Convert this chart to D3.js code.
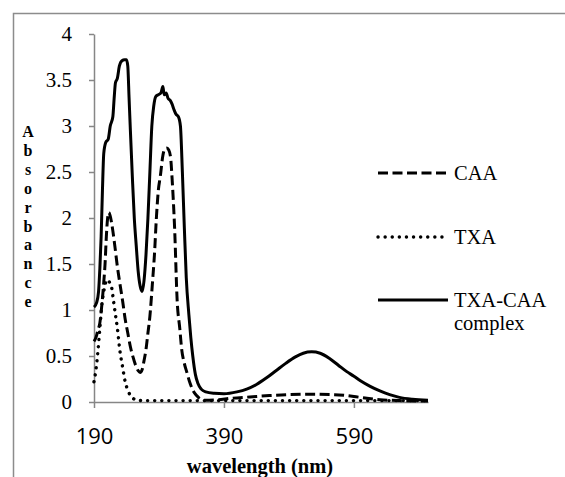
<!DOCTYPE html>
<html>
<head>
<meta charset="utf-8">
<script src="https://cdn.jsdelivr.net/npm/d3@7"></script>
<style>
  body { margin: 0; background: #fff; }
  svg { display: block; }
</style>
</head>
<body>
<div id="chart"></div>
<script>
// values (wavelength in nm, absorbance)
var caaWl  = [190, 193, 196, 199, 202, 205, 207, 209, 211, 213, 215, 219, 222, 226, 230, 234, 238, 242, 246, 250, 254, 258, 261, 264, 267, 270, 273, 276, 280, 283, 286, 289, 292, 296, 299, 302, 305, 308, 310, 312, 314, 318, 322, 325, 329, 333, 338, 342, 348, 353, 360, 380, 400, 430, 460, 490, 525, 560, 590, 610, 630, 660, 704];
var caaAbs = [0.66, 0.7, 0.78, 0.86, 1.05, 1.3, 1.5, 1.8, 2.0, 2.06, 2.02, 1.86, 1.7, 1.47, 1.28, 1.1, 0.9, 0.75, 0.6, 0.49, 0.4, 0.34, 0.32, 0.35, 0.45, 0.57, 0.75, 0.93, 1.3, 1.6, 2.0, 2.3, 2.45, 2.68, 2.75, 2.76, 2.74, 2.65, 2.45, 2.2, 1.9, 1.1, 0.8, 0.57, 0.42, 0.32, 0.2, 0.13, 0.07, 0.035, 0.02, 0.025, 0.04, 0.055, 0.07, 0.08, 0.085, 0.08, 0.06, 0.04, 0.025, 0.015, 0.01];

var txaWl  = [190, 193, 196, 199, 202, 205, 208, 211, 214, 217, 220, 223, 226, 230, 234, 238, 242, 246, 250, 256, 270, 320, 400, 500, 600, 704];
var txaAbs = [0.22, 0.35, 0.55, 0.8, 1.05, 1.2, 1.3, 1.33, 1.3, 1.25, 1.1, 0.95, 0.8, 0.55, 0.38, 0.22, 0.13, 0.07, 0.04, 0.02, 0.015, 0.015, 0.015, 0.015, 0.015, 0.015];

var cplxWl  = [190, 194, 197, 199, 201, 203, 205, 208, 212, 215, 219, 221, 223, 226, 229, 233, 237, 240, 242, 244, 246, 249, 252, 255, 258, 261, 264, 267, 270, 273, 276, 279, 282, 285, 289, 293, 296, 298, 301, 304, 307, 310, 313, 316, 320, 323, 326, 329, 332, 336, 339, 342, 346, 350, 355, 362, 375, 390, 410, 425, 440, 455, 470, 485, 500, 512, 525, 538, 553, 566, 579, 590, 600, 615, 630, 645, 660, 680, 704];
var cplxAbs = [1.03, 1.08, 1.2, 1.45, 1.8, 2.3, 2.7, 2.82, 2.86, 3.0, 3.1, 3.3, 3.47, 3.52, 3.65, 3.71, 3.72, 3.72, 3.65, 3.3, 2.95, 2.45, 2.0, 1.7, 1.42, 1.26, 1.2, 1.32, 1.6, 2.0, 2.5, 3.0, 3.22, 3.32, 3.34, 3.36, 3.43, 3.34, 3.36, 3.3, 3.28, 3.24, 3.18, 3.13, 3.1, 3.0, 2.5, 1.9, 1.35, 0.95, 0.7, 0.5, 0.3, 0.2, 0.14, 0.11, 0.095, 0.09, 0.11, 0.14, 0.19, 0.26, 0.34, 0.42, 0.49, 0.53, 0.545, 0.53, 0.47, 0.4, 0.33, 0.28, 0.23, 0.17, 0.12, 0.08, 0.05, 0.03, 0.02];

var seriesNames = ["CAA", "TXA", "TXA-CAA complex"];
var yTicks = [0, 0.5, 1, 1.5, 2, 2.5, 3, 3.5, 4];
var xTicks = [190, 390, 590];
var yTitle = "Absorbance";
var xTitle = "wavelength (nm)";

var serif = "Liberation Serif";

var W = 565, H = 477;
var svg = d3.select("#chart").append("svg")
    .attr("width", W)
    .attr("height", H);

// outer frame (only top and left edges are visible)
svg.append("path")
    .attr("d", "M13.5,477 L13.5,13.5 L565,13.5")
    .attr("fill", "none")
    .attr("stroke", "#8c8c8c")
    .attr("stroke-width", 1.5);

var x = d3.scaleLinear().domain([190, 704]).range([94, 428]);
var y = d3.scaleLinear().domain([0, 4]).range([402, 34]);

// y axis
var yAxis = svg.append("g")
    .attr("transform", "translate(" + x(190) + ",0)")
    .call(d3.axisLeft(y).tickValues(yTicks).tickSize(5).tickSizeOuter(0).tickPadding(17)
        .tickFormat(function (d) { return String(d); }))
    .attr("font-family", serif)
    .attr("font-size", 21);
yAxis.selectAll("text").attr("fill", "#000");

// x axis
var xAxis = svg.append("g")
    .attr("transform", "translate(0," + y(0) + ")")
    .call(d3.axisBottom(x).tickValues(xTicks).tickSize(6).tickSizeOuter(0).tickPadding(20)
        .tickFormat(function (d) { return String(d); }))
    .attr("font-family", "Open Sans")
    .attr("font-size", 22);
xAxis.selectAll("text").attr("fill", "#000");

svg.selectAll(".domain, .tick line")
    .attr("stroke", "#868686")
    .attr("stroke-width", 1.5);

// series
var styles = [
    {dash: "10,4.5", cap: "butt"},
    {dash: "0.1,7", cap: "round"},
    {dash: null, cap: "butt"}
];
var data = [
    caaWl.map(function (w, i) { return [w, caaAbs[i]]; }),
    txaWl.map(function (w, i) { return [w, txaAbs[i]]; }),
    cplxWl.map(function (w, i) { return [w, cplxAbs[i]]; })
];

var line = d3.line()
    .x(function (d) { return x(d[0]); })
    .y(function (d) { return y(d[1]); })
    .curve(d3.curveMonotoneX);

svg.append("g")
    .selectAll("path")
    .data(data)
    .enter().append("path")
    .attr("d", line)
    .attr("fill", "none")
    .attr("stroke", "#000")
    .attr("stroke-width", function (d, i) { return i == 1 ? 3.4 : 3; })
    .attr("stroke-linecap", function (d, i) { return styles[i].cap; })
    .attr("stroke-linejoin", "round")
    .attr("stroke-dasharray", function (d, i) { return styles[i].dash; });

// legend
var legendY = [173, 237, 300];
var legend = svg.append("g")
    .attr("font-family", serif)
    .attr("font-size", 20.5)
    .selectAll("g")
    .data(seriesNames)
    .enter().append("g")
    .attr("transform", function (d, i) { return "translate(0," + legendY[i] + ")"; });

legend.append("line")
    .attr("x1", 378).attr("x2", 448)
    .attr("y1", 0).attr("y2", 0)
    .attr("stroke", "#000")
    .attr("stroke-width", function (d, i) { return i == 1 ? 3.4 : 3; })
    .attr("stroke-linecap", function (d, i) { return styles[i].cap; })
    .attr("stroke-dasharray", function (d, i) { return styles[i].dash; });

legend.append("text")
    .attr("x", 454)
    .attr("y", 7)
    .each(function (d) {
        var parts = d == "TXA-CAA complex" ? ["TXA-CAA", "complex"] : [d];
        var t = d3.select(this);
        parts.forEach(function (p, j) {
            t.append("tspan").attr("x", 454).attr("dy", j == 0 ? 0 : 23).text(p);
        });
    });

// y title, one letter per row
var yt = svg.append("text")
    .attr("x", 28)
    .attr("y", 137)
    .attr("text-anchor", "middle")
    .attr("font-family", serif)
    .attr("font-size", 16)
    .attr("font-weight", "bold");
yTitle.split("").forEach(function (c, i) {
    yt.append("tspan").attr("x", 28).attr("dy", i == 0 ? 0 : 18.9).text(c);
});

// x title
svg.append("text")
    .attr("x", 260)
    .attr("y", 473)
    .attr("text-anchor", "middle")
    .attr("font-family", serif)
    .attr("font-size", 20.5)
    .attr("font-weight", "bold")
    .text(xTitle);
</script>
</body>
</html>
